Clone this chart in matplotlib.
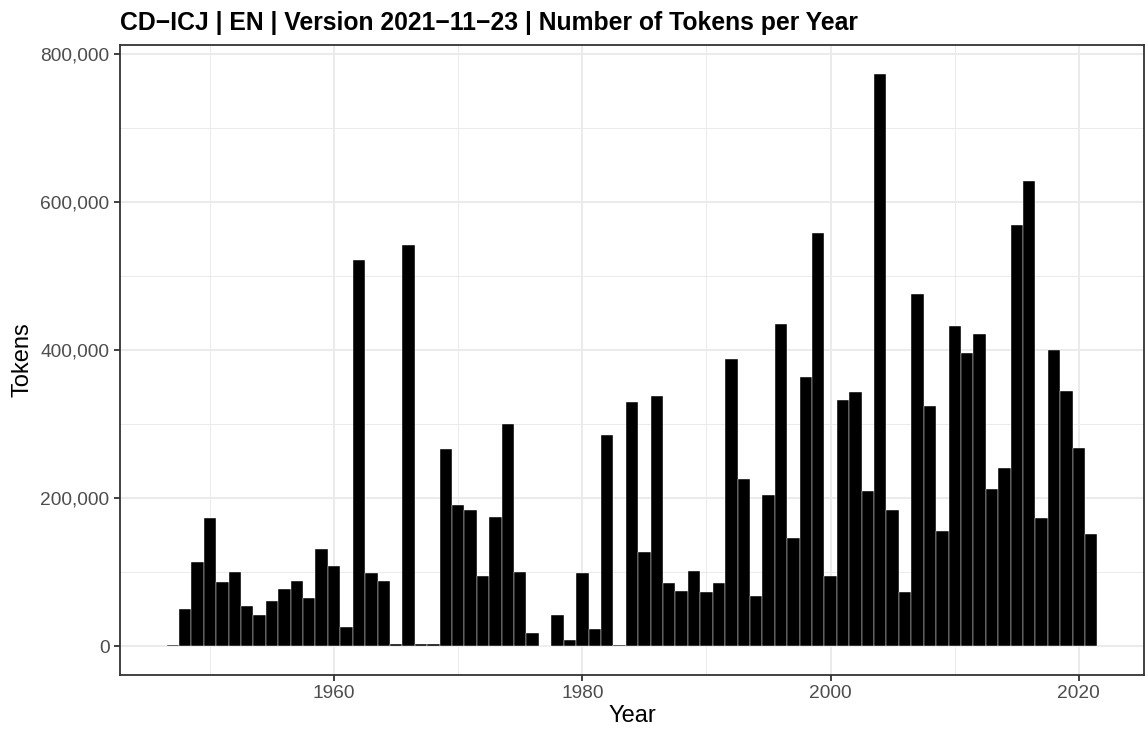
import matplotlib.pyplot as plt
import matplotlib.ticker as mticker
import numpy as np

# data: tokens per year
years = list(range(1947, 2022))
tokens = [
    1500, 50000, 114500, 174000, 86600, 101000, 55000, 43000, 61000, 78000,   # 1947-1956
    89000, 64700, 132000, 108000, 25600, 522500, 98700, 88000, 3000, 543000,   # 1957-1966
    3000, 3000, 267000, 191000, 184600, 95600, 175000, 300800, 101000, 17500,  # 1967-1976
    1000, 42000, 8000, 98700, 23000, 285600, 1500, 330000, 128000, 338000,     # 1977-1986
    86000, 75400, 102000, 74000, 86000, 388000, 226000, 68700, 205000, 436000, # 1987-1996
    147000, 364000, 559000, 95600, 333000, 343500, 210000, 774000, 184500, 74000,  # 1997-2006
    476600, 324600, 156000, 433300, 397000, 421600, 213000, 241000, 569800, 629000,  # 2007-2016
    174000, 401000, 345000, 268000, 152000,                                    # 2017-2021
]

x_ticks = [1960, 1980, 2000, 2020]
x_minor = [1950, 1970, 1990, 2010]
y_ticks = [0, 200000, 400000, 600000, 800000]
y_minor = [100000, 300000, 500000, 700000]

title = "CD\u2212ICJ | EN | Version 2021\u221211\u221223 | Number of Tokens per Year"

plt.rcParams['font.family'] = ['Liberation Sans', 'DejaVu Sans']

fig = plt.figure(figsize=(11.48, 7.31), dpi=100)
ax = fig.add_axes([120/1148, 1 - 675/731, (1144 - 120)/1148, (675 - 45)/731])

ax.bar(years, tokens, width=1.0, color='black', edgecolor='white', linewidth=0.3, zorder=3)

lo, hi = years[0] - 0.5, years[-1] + 0.5
pad = (hi - lo) * 0.05
ax.set_xlim(lo - pad, hi + pad)
ymax = max(tokens)
ax.set_ylim(-ymax * 0.05, ymax * 1.05)

ax.set_xticks(x_ticks)
ax.set_xticks(x_minor, minor=True)
ax.set_yticks(y_ticks)
ax.set_yticks(y_minor, minor=True)
ax.yaxis.set_major_formatter(mticker.FuncFormatter(lambda v, p: f"{int(v):,}"))

ax.grid(which='major', color='#EBEBEB', linewidth=1.4, zorder=0)
ax.grid(which='minor', color='#EBEBEB', linewidth=0.7, zorder=0)
ax.set_axisbelow(True)

for s in ax.spines.values():
    s.set_color('#333333')
    s.set_linewidth(1.3)

ax.tick_params(which='major', length=4.5, width=1.3, color='#333333',
               labelsize=13.8, labelcolor='#4D4D4D', pad=3)
ax.tick_params(which='minor', length=0)

ax.set_xlabel('Year', fontsize=17, labelpad=2)
ax.set_ylabel('Tokens', fontsize=17, labelpad=5)
ax.set_title(title, fontsize=17.8, fontweight='bold', loc='left', pad=10.5)

fig.savefig('out.png', dpi=100)
